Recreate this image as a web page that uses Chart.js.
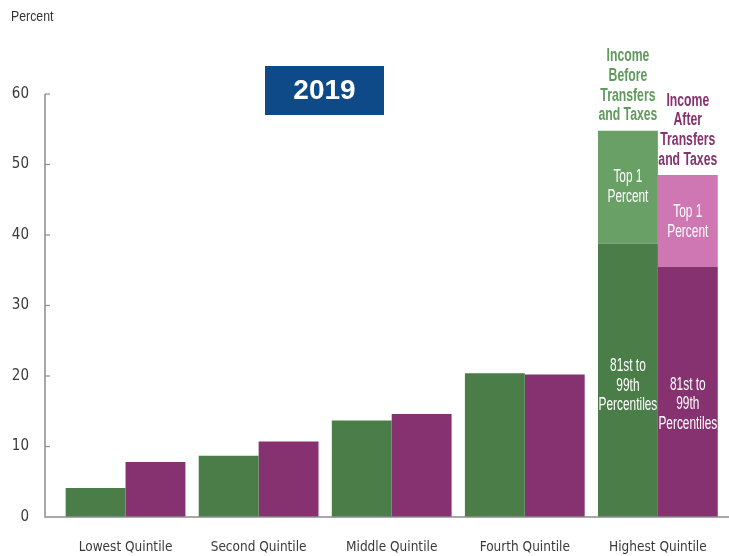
<!DOCTYPE html>
<html>
<head>
<meta charset="utf-8">
<script src="https://cdn.jsdelivr.net/npm/chart.js@4.4.0/dist/chart.umd.min.js"></script>
<style>
  html, body { margin: 0; padding: 0; background: #fff; }
  canvas { display: block; }
</style>
</head>
<body>
<canvas id="chart" width="729" height="556"></canvas>
<script>
const categories = ['Lowest Quintile', 'Second Quintile', 'Middle Quintile', 'Fourth Quintile', 'Highest Quintile'];
// share of income, percent
const beforeBase = [4.1, 8.7, 13.7, 20.4, 38.8];
const beforeTop1 = [null, null, null, null, 16.0];
const afterBase = [7.8, 10.7, 14.6, 20.2, 35.5];
const afterTop1 = [null, null, null, null, 13.0];
const yMin = 0, yMax = 60, yStep = 10;

const yearLabel = '2019';
const unitLabel = 'Percent';
const beforeTitle = ['Income', 'Before', 'Transfers', 'and Taxes'];
const afterTitle = ['Income', 'After', 'Transfers', 'and Taxes'];
const topLabel = ['Top 1', 'Percent'];
const baseLabel = ['81st to', '99th', 'Percentiles'];

const GREEN = '#4a7d48';
const GREEN_LIGHT = '#69a066';
const PURPLE = '#863270';
const PINK = '#cf77b2';
const TICK_FONT = '"DejaVu Sans Condensed", "Liberation Sans Narrow", sans-serif';
const SANS = '"Liberation Sans", Arial, sans-serif';

// the source uses a tall condensed face; squeeze a regular one horizontally
function squeezed(ctx, text, x, y, sx) {
    ctx.save();
    ctx.translate(x, y);
    ctx.scale(sx, 1);
    ctx.fillText(text, 0, 0);
    ctx.restore();
}

function drawLines(ctx, lines, x, yCenter, lh, sx) {
    const y0 = yCenter - (lines.length - 1) * lh / 2;
    lines.forEach((t, i) => squeezed(ctx, t, x, y0 + i * lh, sx));
}

const decor = {
    id: 'decor',
    afterDatasetsDraw(chart) {
        const ctx = chart.ctx;
        const area = chart.chartArea;
        const ys = chart.scales.y;
        const axisX = area.left - 14;
        ctx.save();

        // axes
        ctx.strokeStyle = '#8c8c8c';
        ctx.lineWidth = 1.5;
        ctx.beginPath();
        ctx.moveTo(axisX, ys.getPixelForValue(yMax));
        ctx.lineTo(axisX, area.bottom);
        ctx.lineTo(chart.width, area.bottom);
        ctx.stroke();
        ctx.lineWidth = 1.2;
        for (let v = yMin + yStep; v <= yMax; v += yStep) {
            const py = ys.getPixelForValue(v);
            ctx.beginPath();
            ctx.moveTo(axisX, py);
            ctx.lineTo(axisX + 5, py);
            ctx.stroke();
        }

        // labels for the highest quintile
        const bB = chart.getDatasetMeta(0).data[4];
        const bT = chart.getDatasetMeta(1).data[4];
        const aB = chart.getDatasetMeta(2).data[4];
        const aT = chart.getDatasetMeta(3).data[4];
        const lh = 19.6;
        ctx.textAlign = 'center';
        ctx.textBaseline = 'middle';
        ctx.font = 'bold 18px ' + SANS;
        ctx.fillStyle = '#5f9a5b';
        drawLines(ctx, beforeTitle, bT.x, bT.y - 15.5 - (beforeTitle.length - 1) * lh / 2, lh, 0.68);
        ctx.fillStyle = PURPLE;
        drawLines(ctx, afterTitle, aT.x, aT.y - 15.5 - (afterTitle.length - 1) * lh / 2, lh, 0.68);

        ctx.fillStyle = '#ffffff';
        ctx.font = '18px ' + SANS;
        drawLines(ctx, topLabel, bT.x, (bT.y + bT.base) / 2, lh, 0.66);
        drawLines(ctx, topLabel, aT.x, (aT.y + aT.base) / 2 + 1, lh, 0.66);
        drawLines(ctx, baseLabel, bB.x, bB.base - (bB.base - bB.y) * 0.48, lh, 0.66);
        drawLines(ctx, baseLabel, aB.x, aB.base - (aB.base - aB.y) * 0.45, lh, 0.66);

        // unit label and year box
        ctx.textAlign = 'left';
        ctx.fillStyle = '#333';
        ctx.font = '15px ' + SANS;
        squeezed(ctx, unitLabel, 11, 17, 0.82);

        ctx.fillStyle = '#0d4a87';
        ctx.fillRect(265, 66, 119, 49);
        ctx.fillStyle = '#ffffff';
        ctx.textAlign = 'center';
        ctx.font = 'bold 28px ' + SANS;
        ctx.fillText(yearLabel, 324.5, 91.5);
        ctx.restore();
    }
};

new Chart(document.getElementById('chart'), {
    type: 'bar',
    data: {
        labels: categories,
        datasets: [
            { label: 'Before, base', data: beforeBase, backgroundColor: GREEN, stack: 'before' },
            { label: 'Before, top 1', data: beforeTop1, backgroundColor: GREEN_LIGHT, stack: 'before' },
            { label: 'After, base', data: afterBase, backgroundColor: PURPLE, stack: 'after' },
            { label: 'After, top 1', data: afterTop1, backgroundColor: PINK, stack: 'after' }
        ]
    },
    options: {
        responsive: false,
        animation: false,
        layout: { padding: { top: 94, right: 3, left: 0, bottom: 0 } },
        datasets: { bar: { barPercentage: 1, categoryPercentage: 0.9, borderWidth: 0 } },
        plugins: { legend: { display: false }, tooltip: { enabled: false } },
        scales: {
            x: {
                grid: { display: false, drawTicks: false },
                border: { display: false },
                ticks: { color: '#3a3a3a', padding: 22, maxRotation: 0, autoSkip: false, font: { family: TICK_FONT, size: 13.5 } },
                afterFit: s => { s.height = 39; }
            },
            y: {
                stacked: true,
                min: yMin,
                max: yMax,
                grid: { display: false, drawTicks: false },
                border: { display: false },
                ticks: { stepSize: yStep, color: '#3a3a3a', padding: 30, font: { family: TICK_FONT, size: 15 } },
                afterFit: s => { s.width = 59; }
            }
        }
    },
    plugins: [decor]
});
</script>
</body>
</html>
